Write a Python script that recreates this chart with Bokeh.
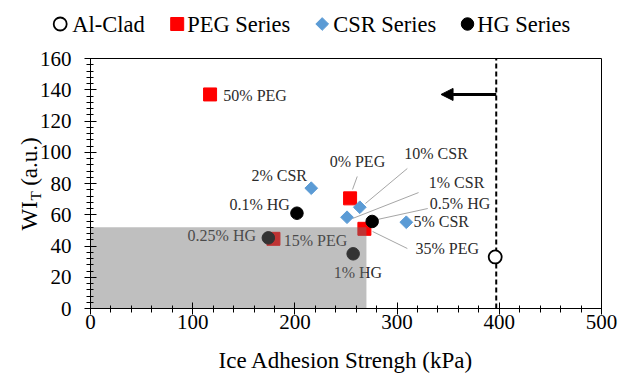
import math
from bokeh.plotting import figure
from bokeh.models import (Range1d, Label, Arrow, NormalHead,
                          SingleIntervalTicker, FixedTicker, LinearAxis)
from bokeh.core.properties import value
from bokeh.embed import file_html
from bokeh.resources import INLINE

FONT = "Liberation Serif"

# ---- data ----
al_x = [396]
al_y = [33]

peg_names = ["50% PEG", "0% PEG", "35% PEG", "15% PEG"]
peg_x = [117, 254, 268, 179]
peg_y = [137, 70.5, 51, 44.6]

csr_names = ["2% CSR", "10% CSR", "1% CSR", "5% CSR"]
csr_x = [216, 263.5, 251, 309]
csr_y = [77, 64.8, 58.4, 55.2]

hg_names = ["0.1% HG", "0.5% HG", "0.25% HG", "1% HG"]
hg_x = [202, 275.6, 174, 257]
hg_y = [61, 55.7, 45.2, 35]

# data-label positions (left edge, vertical centre)
label_text = ["50% PEG", "2% CSR", "0.1% HG", "0.25% HG", "15% PEG", "0% PEG",
              "10% CSR", "1% CSR", "0.5% HG", "5% CSR", "35% PEG", "1% HG"]
label_x = [130, 157.5, 136, 95, 189, 234, 307, 331, 332, 316, 318, 238]
label_y = [136.3, 85, 66.6, 46.7, 43.5, 94, 99.2, 80.6, 67.2, 55.7, 38.4, 23]

# leader lines
leader_x0 = [261, 310, 321, 330, 276]
leader_y0 = [84.5, 89.6, 74.2, 64, 49.3]
leader_x1 = [256.4, 269, 256.4, 281, 310]
leader_y1 = [76.2, 67.2, 57.6, 57, 38.4]

# legend
legend_labels = ["Al-Clad", "PEG Series", "CSR Series", "HG Series"]

# axis extents
x_min, x_max = 0, 500
y_min, y_max = 0, 160

# reference threshold and shaded target region
al_threshold = 397
arrow_y = 137
arrow_end_x = 343
shade_right = 270
shade_top = 52

W, H = 618, 374
# plot box position on the canvas (pixels)
box_left, box_right, box_top, box_bottom = 90, 601, 58, 308
sx = (box_right - box_left) / (x_max - x_min)
sy = (box_bottom - box_top) / (y_max - y_min)
xr = Range1d(x_min - box_left / sx, x_min + (W - box_left) / sx)
yr = Range1d(y_min - (H - box_bottom) / sy, y_min + box_bottom / sy)


def px_to_x(px):
    return x_min + (px - box_left) / sx


def py_to_y(py):
    return y_min + (box_bottom - py) / sy


p = figure(width=W, height=H, output_backend="svg", toolbar_location=None,
           x_range=xr, y_range=yr, x_axis_location=None, y_axis_location=None,
           min_border=0, min_border_left=0, min_border_right=0,
           min_border_top=0, min_border_bottom=0)
p.background_fill_color = "white"
p.border_fill_color = "white"
p.outline_line_color = None
p.xgrid.visible = False
p.ygrid.visible = False

xaxis = LinearAxis(fixed_location=y_min, bounds=(x_min, x_max),
                   ticker=SingleIntervalTicker(interval=100, num_minor_ticks=5))
yaxis = LinearAxis(fixed_location=x_min, bounds=(y_min, y_max),
                   ticker=SingleIntervalTicker(interval=20, num_minor_ticks=5))
for ax in (xaxis, yaxis):
    ax.axis_line_color = "black"
    ax.major_tick_line_color = "black"
    ax.minor_tick_line_color = "black"
    ax.major_tick_in = 6
    ax.major_tick_out = 6
    ax.minor_tick_in = 3
    ax.minor_tick_out = 4
    ax.major_label_text_font = FONT
    ax.major_label_text_font_size = "21px"
    ax.major_label_text_color = "black"
    ax.axis_label_text_font = FONT
    ax.axis_label_text_font_style = "normal"
    ax.axis_label_text_color = "black"
xaxis.axis_label = "Ice Adhesion Strengh (kPa)"
xaxis.axis_label_text_font_size = "23px"
xaxis.major_label_standoff = 0
xaxis.axis_label_standoff = 16
yaxis.major_label_standoff = 13
p.add_layout(xaxis, "below")
p.add_layout(yaxis, "left")

# box border (top and right) as tick-less axes
top_axis = LinearAxis(fixed_location=y_max, bounds=(x_min, x_max), ticker=FixedTicker(ticks=[]),
                      axis_line_color="black", major_label_text_alpha=0)
right_axis = LinearAxis(fixed_location=x_max, bounds=(y_min, y_max), ticker=FixedTicker(ticks=[]),
                        axis_line_color="black", major_label_text_alpha=0)
p.add_layout(top_axis, "above")
p.add_layout(right_axis, "right")

# threshold line and arrow
p.segment(x0=[al_threshold], y0=[y_min], x1=[al_threshold], y1=[y_max],
          line_color="black", line_width=2, line_dash="5 3")
p.add_layout(Arrow(end=NormalHead(size=12, fill_color="black", line_color="black"),
                   x_start=al_threshold, y_start=arrow_y, x_end=arrow_end_x, y_end=arrow_y,
                   line_width=3, line_color="black"))

# leader lines
p.segment(leader_x0, leader_y0, leader_x1, leader_y1, line_color="#a6a6a6", line_width=1)

# series styles
AL = dict(marker="circle", size=13, fill_color="white", line_color="black", line_width=1.8)
PEG = dict(marker="square", size=13, fill_color="#ff0000", line_color="#ff0000")
CSR = dict(marker="square", size=9, angle=math.pi / 4, fill_color="#5b9bd5", line_color="#5b9bd5")
HG = dict(marker="circle", size=12.5, fill_color="black", line_color="black")

# points
p.scatter(al_x, al_y, **AL)
p.scatter(peg_x, peg_y, **PEG)
p.scatter(csr_x, csr_y, **CSR)
p.scatter(hg_x, hg_y, **HG)

# data labels
p.text(label_x, label_y, text=label_text, text_font=value(FONT), text_font_size="16px",
       text_align="left", text_baseline="middle", text_color="#2b2b2b")

# shaded region (semi-transparent overlay)
p.quad(left=[x_min], right=[shade_right], bottom=[y_min], top=[shade_top],
       fill_color="#727272", fill_alpha=0.45, line_alpha=0)

# y-axis label with subscript
ylab_x = px_to_x(29)
ysub_x = px_to_x(35)
p.add_layout(Label(x=ylab_x, y=49.9, text="WI", angle=math.pi / 2, text_font=FONT,
                   text_font_size="23px", text_align="left", text_baseline="alphabetic",
                   text_color="black"))
p.add_layout(Label(x=ysub_x, y=69.2, text="T", angle=math.pi / 2, text_font=FONT,
                   text_font_size="15px", text_align="left", text_baseline="alphabetic",
                   text_color="black"))
p.add_layout(Label(x=ylab_x, y=78.5, text="(a.u.)", angle=math.pi / 2, text_font=FONT,
                   text_font_size="23px", text_align="left", text_baseline="alphabetic",
                   text_color="black"))

# legend row above the plot box (pixel layout converted through the plot's scales)
legend_marker_px = [59.7, 176.7, 321.7, 467]
legend_text_px = [71.7, 186.7, 332.7, 476.7]
legend_center_py = 23.5
for style, mx in zip((AL, PEG, CSR, HG), legend_marker_px):
    p.scatter([px_to_x(mx)], [py_to_y(legend_center_py)], **style)
p.text([px_to_x(t) for t in legend_text_px], [py_to_y(legend_center_py)] * 4,
       text=legend_labels, text_font=value(FONT), text_font_size="22.5px",
       text_align="left", text_baseline="middle", text_color="black")

open("out.html", "w").write(file_html(p, INLINE))
